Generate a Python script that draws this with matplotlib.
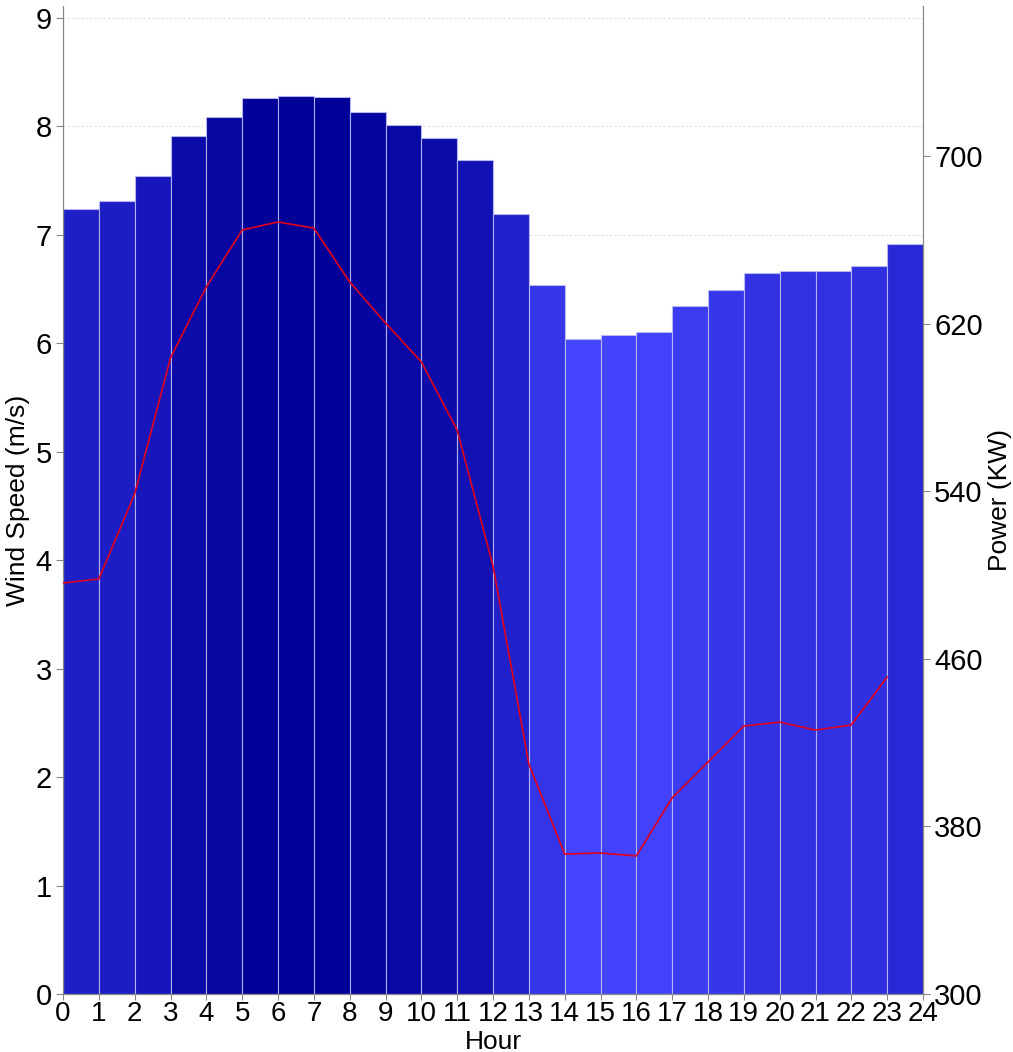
import matplotlib
matplotlib.use("Agg")
import matplotlib.pyplot as plt
import numpy as np
from matplotlib.colors import LinearSegmentedColormap, Normalize

plt.rcParams['font.family'] = ['Liberation Sans', 'DejaVu Sans']

hours = list(range(24))
wind_speed = [7.24, 7.31, 7.54, 7.91, 8.09, 8.26, 8.28, 8.27, 8.13, 8.01, 7.89, 7.69,
              7.19, 6.54, 6.04, 6.08, 6.10, 6.34, 6.49, 6.65, 6.67, 6.67, 6.71, 6.92]
power = [496.2, 498.1, 538.7, 603.6, 637.5, 664.7, 668.5, 665.6, 639.9, 620.3, 601.7, 569.2,
         504.3, 409.8, 366.8, 367.3, 365.9, 393.6, 410.7, 427.9, 429.8, 426.0, 428.4, 451.3]
x_ticks = list(range(25))
left_ticks = list(range(10))
right_ticks = [300, 380, 460, 540, 620, 700]

fig = plt.figure(figsize=(10.13, 10.52), dpi=100)
ax = fig.add_axes([63/1013, 1-994/1052, (923-63)/1013, (994-6)/1052])

cmap = LinearSegmentedColormap.from_list('wb', ['#4444FF', '#000099'])
norm = Normalize(vmin=min(wind_speed), vmax=max(wind_speed))
colors = [cmap(norm(v)) for v in wind_speed]

ax.bar(hours, wind_speed, width=1.0, align='edge', color=colors,
       edgecolor=(0.75, 0.75, 0.95, 0.85), linewidth=0.8, zorder=2)
ax.set_xlim(0, 24)
ax.set_ylim(0, 9.11)
ax.set_xticks(x_ticks)
ax.set_yticks(left_ticks)
ax.tick_params(axis='x', labelsize=20, length=4, color='#888888', pad=1)
ax.tick_params(axis='y', labelsize=21, length=5, color='#888888', pad=3)
ax.yaxis.grid(True, linestyle=(0, (2, 2)), color='#e0e0e0', linewidth=0.8, zorder=0)
ax.set_axisbelow(True)
ax.set_xlabel('Hour', fontsize=19, labelpad=2)
ax.set_ylabel('Wind Speed (m/s)', fontsize=19, labelpad=4)
ax.spines['top'].set_visible(False)
for s in ['left', 'right', 'bottom']:
    ax.spines[s].set_color('#888888')

ax2 = ax.twinx()
ax2.plot(hours, power, color='#e0001b', linewidth=1.2, zorder=3)
ax2.set_ylim(300, 771.6)
ax2.set_yticks(right_ticks)
ax2.tick_params(axis='y', labelsize=21, length=5, color='#888888', pad=3)
ax2.set_ylabel('Power (KW)', fontsize=19, labelpad=4)
ax2.spines['top'].set_visible(False)
for s in ['left', 'right', 'bottom']:
    ax2.spines[s].set_color('#888888')

fig.savefig('out.png', dpi=100)
